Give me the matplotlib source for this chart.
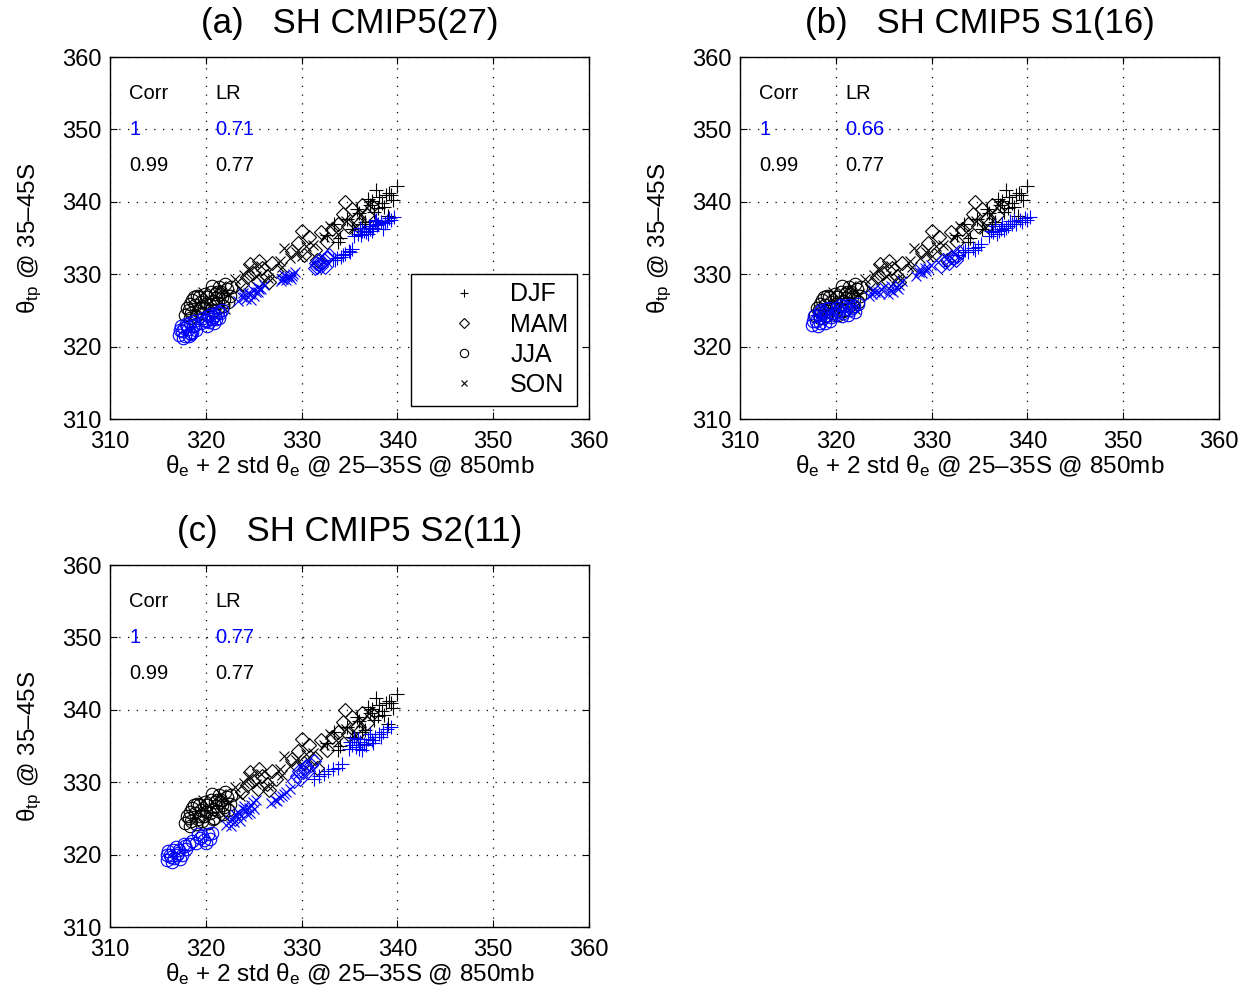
import matplotlib
matplotlib.use("Agg")
import matplotlib.pyplot as plt
from matplotlib.lines import Line2D

plt.rcParams['font.family'] = ['Liberation Sans', 'DejaVu Sans']
plt.rcParams['mathtext.fontset'] = 'custom'
plt.rcParams['mathtext.rm'] = 'Liberation Sans'
plt.rcParams['mathtext.it'] = 'Liberation Sans'

# ---------------- data ----------------
titles = ["(a)   SH CMIP5(27)", "(b)   SH CMIP5 S1(16)", "(c)   SH CMIP5 S2(11)"]
corr_blue = ["1", "1", "1"]
lr_blue = ["0.71", "0.66", "0.77"]
corr_black = ["0.99", "0.99", "0.99"]
lr_black = ["0.77", "0.77", "0.77"]
seasons = ["DJF", "MAM", "JJA", "SON"]
ticks = [310, 320, 330, 340, 350, 360]

# black (reference) points, identical in all panels
blk_jja_x = [317.8, 318.2, 318.5, 318.9, 319.2, 319.5, 319.8, 320.1, 320.4, 320.7, 321.0, 321.3, 321.6, 321.9, 322.2, 322.5,
             318.0, 318.6, 319.1, 319.6, 320.0, 320.5, 320.9, 321.4, 321.8, 322.3, 318.4, 319.3, 320.2, 321.1, 322.0,
             318.3, 318.8, 319.4, 319.9, 320.6, 321.2, 321.7, 322.6, 319.0, 320.8]
blk_jja_y = [324.3, 325.0, 324.6, 325.8, 324.9, 326.2, 325.4, 326.8, 325.7, 326.3, 327.2, 326.0, 327.5, 326.6, 327.9, 327.0,
             325.4, 326.4, 327.0, 324.7, 325.9, 327.6, 325.1, 328.2, 325.6, 326.2, 323.9, 326.9, 324.4, 326.7, 328.6,
             325.9, 326.9, 325.3, 327.3, 328.4, 327.6, 326.8, 328.3, 324.2, 324.9]
blk_son_x = [319.7, 320.3, 321.0, 321.6, 322.4, 323.1, 323.6, 324.5, 325.2, 325.8, 326.5, 327.7, 328.2, 328.8, 329.4, 330.0,
             331.2, 332.3, 333.0, 333.8, 334.6, 335.5, 336.2, 337.0, 322.0, 324.0, 328.0, 330.5]
blk_son_y = [327.6, 326.0, 327.0, 328.4, 327.3, 329.3, 328.1, 330.9, 329.8, 331.2, 329.5, 331.8, 333.6, 332.2, 333.0, 332.5,
             334.0, 335.2, 336.6, 335.5, 337.4, 336.3, 338.3, 339.6, 325.2, 329.9, 331.0, 333.9]
blk_mam_x = [323.8, 324.3, 324.9, 325.4, 325.9, 326.4, 326.9, 327.3, 324.6, 325.6, 326.6, 329.0, 329.6, 330.2, 330.8, 331.4,
             332.0, 332.6, 333.2, 330.0, 331.6, 333.8, 334.3, 334.8, 335.3, 335.8, 336.3, 336.8, 337.3, 334.5, 336.0]
blk_mam_y = [328.6, 329.6, 330.2, 329.0, 330.9, 329.8, 331.5, 330.4, 331.4, 331.8, 328.9, 333.2, 334.3, 332.6, 335.1, 333.4,
             335.8, 334.4, 336.2, 336.0, 331.9, 337.0, 338.3, 336.6, 339.0, 337.6, 339.6, 338.2, 339.4, 340.0, 337.0]
blk_djf_x = [332.6, 333.4, 334.0, 334.7, 335.3, 336.0, 336.6, 337.1, 337.6, 338.1, 338.6, 339.1, 339.5,
             335.8, 336.9, 337.8, 338.4, 339.0, 333.8, 336.3, 338.8, 340.0, 337.4, 338.0, 339.3]
blk_djf_y = [335.4, 336.9, 335.0, 337.6, 336.3, 338.4, 337.2, 339.6, 338.6, 340.6, 339.3, 341.2, 340.2,
             339.0, 340.4, 341.6, 339.9, 338.0, 334.4, 336.9, 340.9, 342.2, 340.1, 339.2, 341.0]

# blue (model) points, panel (a)
a_jja_x = [317.2, 317.5, 317.8, 318.1, 318.4, 318.7, 319.0, 317.4, 317.9, 318.3, 318.8, 317.6, 318.2, 318.6,
           317.3, 318.0, 318.5, 318.9, 317.7,
           319.5, 319.9, 320.3, 320.7, 321.1, 321.5, 319.7, 320.1, 320.5, 320.9, 321.3, 321.7,
           320.0, 320.6, 321.0, 320.2, 321.4]
a_jja_y = [321.6, 322.1, 321.4, 322.5, 321.9, 322.8, 322.3, 322.8, 323.1, 323.3, 323.6, 321.2, 321.5, 322.0,
           322.3, 322.9, 321.7, 323.0, 322.6,
           323.2, 323.7, 323.4, 324.1, 323.8, 324.6, 324.0, 322.9, 324.5, 323.3, 324.8, 325.0,
           323.5, 323.8, 324.4, 324.2, 324.0]
a_son_x = [323.4, 323.8, 324.2, 324.6, 325.0, 325.4, 325.8, 326.1, 323.9, 324.7, 325.5,
           324.0, 324.4, 325.2, 325.6, 324.9,
           327.8, 328.1, 328.4, 328.7, 329.0, 329.3, 328.2, 328.9, 328.5, 328.0, 329.1]
a_son_y = [326.3, 326.8, 326.6, 327.2, 327.0, 327.6, 327.9, 328.5, 327.4, 326.5, 328.3,
           326.9, 327.4, 327.5, 328.0, 327.8,
           329.0, 329.4, 329.2, 329.8, 329.7, 330.3, 329.9, 329.3, 329.6, 329.3, 330.0]
a_mam_x = [331.4, 331.7, 332.0, 332.3, 332.6, 332.9, 331.8, 332.4, 331.6, 332.1, 332.7, 331.5]
a_mam_y = [330.8, 331.4, 331.2, 331.9, 332.2, 332.7, 332.0, 331.0, 331.0, 331.6, 332.4, 331.6]
a_djf_x = [333.3, 333.7, 334.1, 334.5, 334.9, 335.3, 333.5, 334.3, 335.0,
           335.5, 335.9, 336.3, 336.7, 337.1, 337.5, 337.9, 338.3, 338.7, 339.1, 339.6, 336.1, 336.9, 337.7, 338.5,
           336.5, 337.3, 338.0, 338.9, 339.3, 336.2, 337.0, 337.8]
a_djf_y = [331.9, 332.3, 332.4, 332.8, 333.2, 333.5, 332.0, 332.6, 333.0,
           335.3, 335.6, 335.9, 335.8, 336.2, 336.4, 336.8, 337.2, 337.1, 337.7, 337.9, 336.4, 335.5, 337.3, 336.3,
           336.0, 336.0, 336.9, 337.4, 337.5, 335.4, 336.6, 337.5]

# blue points, panel (b)
b_jja_x = [317.5, 317.9, 318.3, 318.7, 319.1, 319.5, 319.9, 317.7, 318.5, 319.3, 318.1, 318.9,
           317.6, 318.2, 318.8, 319.4, 318.4, 319.0,
           319.9, 320.3, 320.7, 321.1, 321.5, 321.9, 322.3, 320.5, 321.3, 322.0,
           320.1, 320.9, 321.7, 320.6, 321.4]
b_jja_y = [323.0, 323.6, 323.3, 324.0, 324.3, 324.1, 324.7, 324.2, 325.0, 325.4, 322.8, 323.2,
           323.5, 324.3, 324.6, 323.6, 324.8, 325.2,
           324.4, 324.9, 324.6, 325.2, 325.0, 325.6, 325.9, 325.7, 324.3, 324.8,
           325.3, 325.6, 325.4, 324.2, 325.8]
b_son_x = [323.5, 323.8, 324.1, 324.4, 324.7, 325.0, 323.9, 324.6,
           325.4, 325.7, 326.0, 326.3, 326.6, 326.9, 325.8, 326.5,
           328.4, 328.7, 329.0, 329.3, 329.6, 329.9, 328.8, 329.4]
b_son_y = [327.0, 327.3, 327.6, 327.5, 328.0, 328.3, 327.8, 327.2,
           327.3, 327.8, 327.6, 328.3, 328.5, 329.0, 328.4, 327.9,
           329.8, 330.3, 330.1, 330.8, 330.9, 331.3, 330.7, 330.4]
b_mam_x = [331.0, 331.4, 331.8, 332.2, 332.6, 332.9, 331.2, 332.0, 332.5]
b_mam_y = [331.2, 331.7, 331.6, 332.3, 332.5, 333.0, 331.9, 332.4, 331.9]
b_djf_x = [332.8, 333.3, 333.8, 334.3, 334.8, 335.2, 333.5, 334.5,
           336.0, 336.4, 336.8, 337.2, 337.6, 338.0, 338.4, 338.8, 339.2, 339.7, 340.3, 336.6, 337.4, 338.2,
           336.2, 337.0, 337.8, 338.6, 339.4, 340.0]
b_djf_y = [332.6, 333.0, 333.1, 333.6, 333.8, 334.2, 333.4, 333.3,
           335.3, 335.8, 335.6, 336.3, 336.1, 336.7, 337.0, 336.9, 337.5, 337.8, 337.9, 336.6, 336.9, 337.4,
           335.9, 335.9, 336.4, 337.3, 337.2, 337.5]

# blue points, panel (c)
c_jja_x = [315.9, 316.3, 316.7, 317.1, 317.5, 317.9, 316.1, 316.9, 317.7, 316.5, 317.3,
           316.0, 316.6, 317.2, 317.8, 316.4, 317.0,
           318.2, 318.6, 319.0, 319.4, 319.8, 320.2, 320.6, 319.2, 320.0, 319.6, 320.4]
c_jja_y = [319.3, 319.9, 319.5, 320.2, 320.0, 320.8, 320.5, 321.1, 321.5, 319.0, 319.4,
           320.0, 320.6, 320.7, 321.2, 319.6, 319.9,
           321.4, 321.9, 321.6, 322.3, 322.0, 322.8, 323.0, 322.9, 321.6, 322.6, 322.2]
c_son_x = [322.1, 322.5, 322.9, 323.3, 323.7, 324.1, 324.5, 324.9, 325.2, 323.0, 324.0, 325.0, 322.6, 323.6,
           322.8, 323.4, 324.3, 324.7, 323.9, 324.6,
           326.8, 327.2, 327.6, 328.0, 328.4, 328.8, 327.4, 328.2]
c_son_y = [324.1, 324.6, 324.5, 325.3, 325.4, 326.1, 326.5, 327.2, 327.6, 325.6, 326.7, 326.3, 324.0, 324.7,
           325.0, 325.9, 325.6, 326.9, 326.3, 325.8,
           327.1, 327.5, 327.9, 328.1, 328.6, 329.0, 327.4, 328.4]
c_mam_x = [329.2, 329.5, 329.8, 330.1, 330.4, 330.7, 331.0, 331.3, 329.7, 330.5]
c_mam_y = [330.1, 330.9, 330.5, 331.4, 331.9, 331.5, 332.4, 332.9, 331.6, 332.3]
c_djf_x = [331.3, 331.8, 332.3, 332.8, 333.3, 333.8, 334.2,
           334.9, 335.3, 335.7, 336.1, 336.5, 336.9, 337.3, 337.7, 338.1, 338.5, 338.9, 339.3, 335.5, 336.3, 337.1,
           335.1, 335.9, 336.7, 337.5, 338.3, 336.0]
c_djf_y = [330.5, 330.8, 331.2, 331.5, 331.8, 332.0, 332.5,
           334.6, 335.2, 334.9, 335.6, 335.3, 336.0, 335.8, 336.3, 336.6, 336.9, 337.3, 337.6, 336.1, 334.4, 336.7,
           335.6, 335.9, 335.1, 335.4, 336.2, 334.6]

black_sets = {"DJF": (blk_djf_x, blk_djf_y), "MAM": (blk_mam_x, blk_mam_y),
              "JJA": (blk_jja_x, blk_jja_y), "SON": (blk_son_x, blk_son_y)}
blue_sets = [
    {"DJF": (a_djf_x, a_djf_y), "MAM": (a_mam_x, a_mam_y), "JJA": (a_jja_x, a_jja_y), "SON": (a_son_x, a_son_y)},
    {"DJF": (b_djf_x, b_djf_y), "MAM": (b_mam_x, b_mam_y), "JJA": (b_jja_x, b_jja_y), "SON": (b_son_x, b_son_y)},
    {"DJF": (c_djf_x, c_djf_y), "MAM": (c_mam_x, c_mam_y), "JJA": (c_jja_x, c_jja_y), "SON": (c_son_x, c_son_y)},
]
markers = {"DJF": "+", "MAM": "D", "JJA": "o", "SON": "x"}
msize = {"DJF": 10, "MAM": 7, "JJA": 9, "SON": 7}

# ---------------- figure ----------------
fig = plt.figure(figsize=(12.5, 9.94), dpi=100)
W, H = 1250, 994
boxes = [(110, 57, 589, 419), (740, 57, 1219, 419), (110, 565, 589, 927)]

xlab = r'θ$_{\rm e}$ + 2 std θ$_{\rm e}$ @ 25–35S @ 850mb'
ylab = r'θ$_{\rm tp}$ @ 35–45S'

for i, (l, t, r, b) in enumerate(boxes):
    ax = fig.add_axes([l / W, 1 - b / H, (r - l) / W, (b - t) / H])
    for s in ["JJA", "SON", "MAM", "DJF"]:
        bx, by = black_sets[s]
        ax.plot(bx, by, linestyle='none', marker=markers[s], ms=msize[s], mfc='none',
                mec='black', mew=0.8)
    for s in ["JJA", "SON", "MAM", "DJF"]:
        ux, uy = blue_sets[i][s]
        ax.plot(ux, uy, linestyle='none', marker=markers[s], ms=msize[s], mfc='none',
                mec='#0000ff', mew=0.8)
    ax.set_xlim(310, 360)
    ax.set_ylim(310, 360)
    ax.set_xticks(ticks)
    ax.set_yticks(ticks)
    ax.tick_params(direction='in', top=True, right=True, length=5, width=0.8,
                   labelsize=17)
    ax.tick_params(axis='x', pad=9)
    ax.tick_params(axis='y', pad=6)
    ax.grid(True, color='black', linestyle=(0, (1, 6)), linewidth=0.9)
    for sp in ax.spines.values():
        sp.set_linewidth(1.0)
    ax.set_title(titles[i], fontsize=25, pad=17)
    ax.set_xlabel(xlab, fontsize=17.5, labelpad=0)
    ax.set_ylabel(ylab, fontsize=17.5, labelpad=13)

    fs = 14.5
    ax.text(312.0, 355.0, "Corr", fontsize=fs, va='center', ha='left')
    ax.text(321.0, 355.0, "LR", fontsize=fs, va='center', ha='left')
    ax.text(312.0, 350.0, corr_blue[i], fontsize=fs, va='center', ha='left', color='#0000ff')
    ax.text(321.0, 350.0, lr_blue[i], fontsize=fs, va='center', ha='left', color='#0000ff')
    ax.text(312.0, 345.0, corr_black[i], fontsize=fs, va='center', ha='left')
    ax.text(321.0, 345.0, lr_black[i], fontsize=fs, va='center', ha='left')

    if i == 0:
        handles = [Line2D([], [], linestyle='none', marker=m, ms=sz, mfc='none',
                          mec='black', mew=0.8)
                   for m, sz in zip(["+", "D", "o", "x"], [6, 5, 6, 4.5])]
        leg = ax.legend(handles, seasons, loc='lower right', bbox_to_anchor=(0.975, 0.036),
                        fontsize=18, frameon=True, fancybox=False, edgecolor='black',
                        framealpha=1, handlelength=3.5, handletextpad=0.1,
                        borderpad=0.35, labelspacing=0.25, borderaxespad=0)
        leg.get_frame().set_linewidth(1.0)

fig.savefig("out.png", dpi=100)
